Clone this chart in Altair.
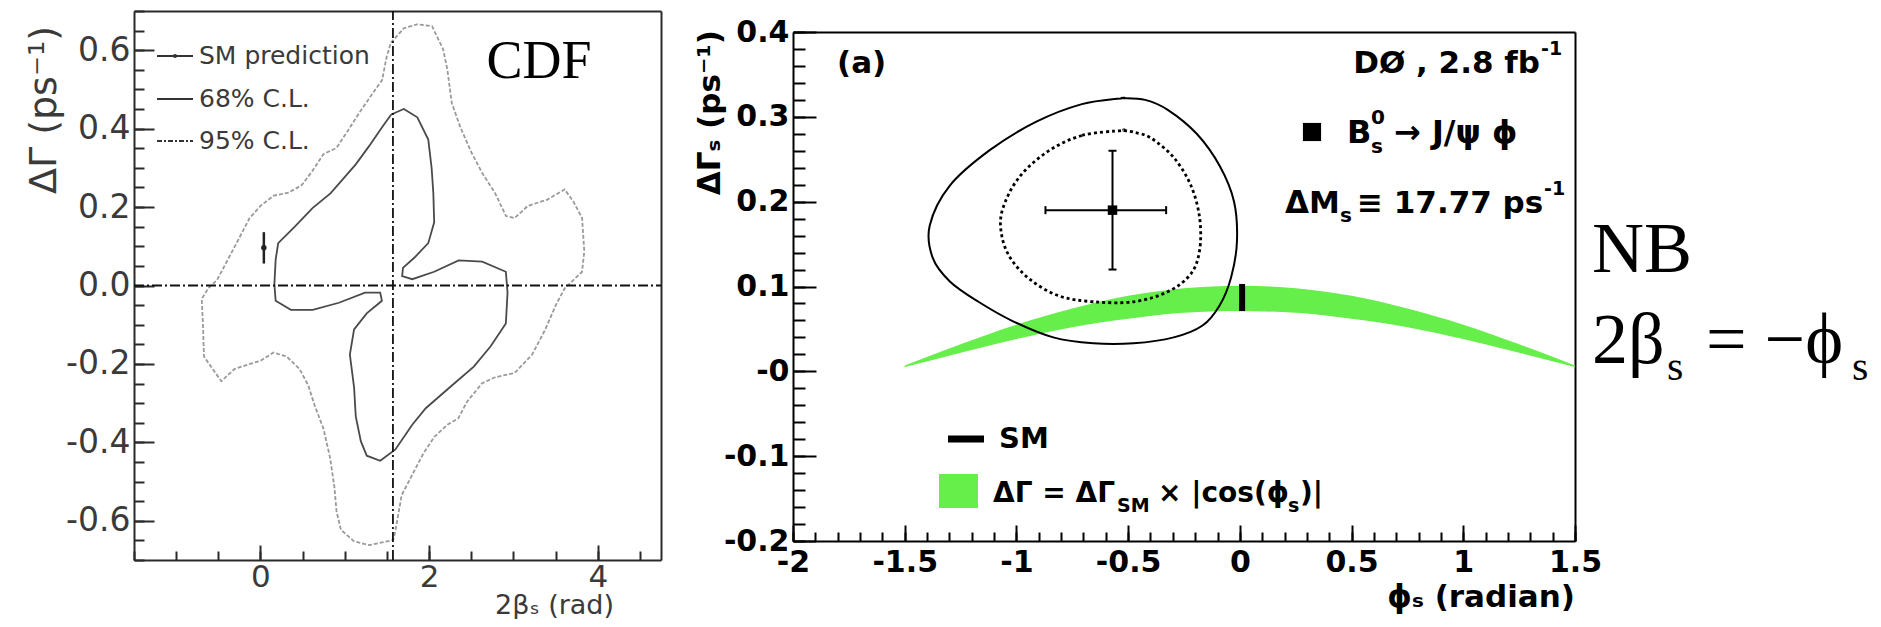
import altair as alt
import pandas as pd

# ---------------- CDF panel (left) data ----------------
cdf68_x = [1.55, 1.70, 1.86, 1.99, 2.03, 2.05, 2.06, 1.99, 1.83, 1.69, 1.68, 1.80, 2.06, 2.35, 2.63, 2.91, 2.93, 2.91, 2.73, 2.53,
           2.27, 1.96, 1.80, 1.60, 1.42, 1.26, 1.19, 1.13, 1.11, 1.06, 1.11, 1.26, 1.44, 1.42, 1.24, 0.93, 0.62, 0.36, 0.18, 0.165,
           0.18, 0.21, 0.41, 0.62, 0.83, 0.98, 1.13, 1.29, 1.44]
cdf68_y = [0.436, 0.450, 0.429, 0.372, 0.299, 0.235, 0.161, 0.108, 0.072, 0.045, 0.024, 0.016, 0.035, 0.064, 0.061, 0.035, -0.018,
           -0.097, -0.155, -0.207, -0.255, -0.313, -0.355, -0.418, -0.447, -0.434, -0.397, -0.334, -0.260, -0.176, -0.112, -0.071,
           -0.039, -0.018, -0.018, -0.044, -0.062, -0.062, -0.039, 0.003, 0.066, 0.108, 0.151, 0.198, 0.235, 0.272, 0.309, 0.356, 0.403]
cdf95_x = [1.546, 1.701, 1.856, 2.036, 2.165, 2.216, 2.268, 2.371, 2.500, 2.629, 2.784, 2.912, 3.015, 3.170, 3.402, 3.608, 3.711,
           3.814, 3.840, 3.814, 3.608, 3.505, 3.376, 3.222, 3.015, 2.784, 2.629, 2.448, 2.345, 2.216, 2.062, 1.933, 1.804, 1.727,
           1.675, 1.598, 1.572, 1.443, 1.289, 1.108, 0.954, 0.902, 0.876, 0.825, 0.747, 0.644, 0.567, 0.464, 0.309, 0.155, 0.000,
           -0.155, -0.309, -0.464, -0.567, -0.670, -0.680, -0.696, -0.619, -0.515, -0.412, -0.284, -0.129, 0.000, 0.155, 0.335,
           0.490, 0.619, 0.747, 0.902, 1.031, 1.186, 1.340, 1.443, 1.495]
cdf95_y = [0.619, 0.656, 0.666, 0.661, 0.603, 0.551, 0.466, 0.403, 0.340, 0.287, 0.235, 0.177, 0.172, 0.203, 0.219, 0.245, 0.214,
           0.172, 0.087, 0.035, -0.007, -0.049, -0.113, -0.176, -0.223, -0.234, -0.249, -0.297, -0.339, -0.355, -0.386, -0.428,
           -0.481, -0.513, -0.534, -0.628, -0.649, -0.655, -0.662, -0.652, -0.623, -0.576, -0.513, -0.439, -0.365, -0.307, -0.255,
           -0.213, -0.181, -0.171, -0.192, -0.202, -0.213, -0.244, -0.213, -0.181, -0.113, -0.034, -0.007, 0.014, 0.056, 0.108,
           0.172, 0.203, 0.229, 0.237, 0.256, 0.293, 0.335, 0.351, 0.393, 0.445, 0.493, 0.524, 0.582]
cdf_sm_x = [0.04]
cdf_sm_y = [0.096]
cdf_sm_lo = [0.056]
cdf_sm_hi = [0.136]
cdf_hline_x, cdf_hline_x2, cdf_hline_y = [-1.5], [4.75], [0.0]
cdf_vline_x, cdf_vline_y, cdf_vline_y2 = [1.571], [-0.7], [0.7]
cdf_xticks = [0, 2, 4]
cdf_yticks = [-0.6, -0.4, -0.2, 0.0, 0.2, 0.4, 0.6]
cdf_xminor = [round(-1.5 + 0.5 * k, 2) for k in range(13)]
cdf_yminor = [round(-0.7 + 0.05 * k, 2) for k in range(29)]

# ---------------- DØ panel (right) data ----------------
d0_out_x = [-0.527, -0.707, -0.913, -1.118, -1.298, -1.388, -1.375, -1.298, -1.170, -1.015, -0.835, -0.656, -0.476, -0.296,
            -0.167, -0.090, -0.039, -0.013, -0.026, -0.090, -0.193, -0.321, -0.424]
d0_out_y = [0.322, 0.315, 0.294, 0.261, 0.219, 0.172, 0.134, 0.106, 0.082, 0.059, 0.040, 0.033, 0.033, 0.040, 0.054, 0.078,
            0.111, 0.153, 0.200, 0.242, 0.280, 0.308, 0.320]
d0_in_x = [-0.527, -0.707, -0.861, -0.990, -1.062, -1.067, -1.028, -0.938, -0.810, -0.656, -0.476, -0.321, -0.219, -0.180,
           -0.180, -0.219, -0.296, -0.398, -0.476]
d0_in_y = [0.284, 0.278, 0.259, 0.228, 0.191, 0.162, 0.134, 0.108, 0.089, 0.082, 0.082, 0.094, 0.115, 0.143, 0.181, 0.219,
           0.252, 0.275, 0.282]
d0_best_phi, d0_best_dg = [-0.57], [0.19]
d0_phi_lo, d0_phi_hi = [-0.87], [-0.33]
d0_dg_lo, d0_dg_hi = [0.12], [0.26]
band_phi = [-1.5, -1.25, -1.0, -0.75, -0.5, -0.25, 0.0, 0.25, 0.5, 0.75, 1.0, 1.25, 1.5]
band_hi = [0.007, 0.032, 0.055, 0.074, 0.089, 0.098, 0.101, 0.098, 0.089, 0.074, 0.055, 0.032, 0.007]
band_lo = [0.005, 0.022, 0.038, 0.052, 0.062, 0.069, 0.071, 0.069, 0.062, 0.052, 0.038, 0.022, 0.005]
sm_phi, sm_lo, sm_hi = [0.01], [0.071], [0.103]
d0_xticks = [-2, -1.5, -1, -0.5, 0, 0.5, 1, 1.5]
d0_yticks = [-0.2, -0.1, 0, 0.1, 0.2, 0.3, 0.4]
d0_xminor = [round(-2 + 0.1 * k, 2) for k in range(36)]
d0_yminor = [round(-0.2 + 0.02 * k, 2) for k in range(31)]

# ---------------- geometry / style ----------------
SANS = "DejaVu Sans"
SERIF = "Liberation Serif"
GREY = "#3a3a3a"
GREEN = "#66ee4a"
W, H = 1865, 611
LX0, LX1, LY0, LY1 = 126, 653, 3, 552
RX0, RX1, RY0, RY1 = 785, 1567, 24, 533
L_XDOM, L_YDOM = [-1.5, 4.75], [-0.7, 0.7]
R_XDOM, R_YDOM = [-2.0, 1.5], [-0.2, 0.4]


def lxs():
    return alt.Scale(domain=L_XDOM, range=[LX0, LX1], nice=False, zero=False)


def lys():
    return alt.Scale(domain=L_YDOM, range=[LY1, LY0], nice=False, zero=False)


def rxs():
    return alt.Scale(domain=R_XDOM, range=[RX0, RX1], nice=False, zero=False)


def rys():
    return alt.Scale(domain=R_YDOM, range=[RY1, RY0], nice=False, zero=False)


def axis(**kw):
    base = dict(grid=False, title=None, labels=False, ticks=False, domain=False)
    base.update(kw)
    return alt.Axis(**base)


# left panel axes
L_LAB = (axis(orient="bottom", offset=LY1 - H, values=cdf_xticks, labels=True, labelExpr="toString(datum.value)",
              labelFont=SANS, labelFontSize=31, labelColor=GREY, labelPadding=2, tickSize=0, labelOverlap=False,
              labelFlush=False, domain=True, domainColor="#2a2a2a", domainWidth=2),
         axis(orient="left", offset=-LX0, values=cdf_yticks, labels=True,
              labelExpr="datum.value == 0 ? '0.0' : toString(datum.value)",
              labelFont=SANS, labelFontSize=33, labelColor=GREY, labelPadding=4, tickSize=0, labelOverlap=False,
              labelFlush=False, domain=True, domainColor="#2a2a2a", domainWidth=2))
L_MAJ = (axis(orient="top", offset=-LY1, values=cdf_xticks, ticks=True, tickSize=15, tickColor="#2a2a2a", tickWidth=2),
         axis(orient="right", offset=LX0 - W, values=cdf_yticks, ticks=True, tickSize=20, tickColor="#2a2a2a", tickWidth=2))
L_MIN = (axis(orient="top", offset=-LY1, values=cdf_xminor, ticks=True, tickSize=9, tickColor="#2a2a2a", tickWidth=2),
         axis(orient="right", offset=LX0 - W, values=cdf_yminor, ticks=True, tickSize=10, tickColor="#2a2a2a", tickWidth=2))
L_FRM = (axis(orient="top", offset=-LY0, domain=True, domainColor="#2a2a2a", domainWidth=2),
         axis(orient="right", offset=LX1 - W, domain=True, domainColor="#2a2a2a", domainWidth=2))

# right panel axes
R_LAB = (axis(orient="bottom", offset=RY1 - H, values=d0_xticks, labels=True, labelExpr="toString(datum.value)",
              labelFont=SANS, labelFontSize=30, labelFontWeight="bold", labelColor="black", labelPadding=6, tickSize=0,
              labelOverlap=False, labelFlush=False, domain=True, domainColor="black", domainWidth=2),
         axis(orient="left", offset=-RX0, values=d0_yticks, labels=True,
              labelExpr="datum.value == 0 ? '-0' : toString(datum.value)",
              labelFont=SANS, labelFontSize=30, labelFontWeight="bold", labelColor="black", labelPadding=4, tickSize=0,
              labelOverlap=False, labelFlush=False, domain=True, domainColor="black", domainWidth=2))
R_MAJ = (axis(orient="top", offset=-RY1, values=d0_xticks, ticks=True, tickSize=16, tickColor="black", tickWidth=2),
         axis(orient="right", offset=RX0 - W, values=d0_yticks, ticks=True, tickSize=23, tickColor="black", tickWidth=2))
R_MIN = (axis(orient="top", offset=-RY1, values=d0_xminor, ticks=True, tickSize=9, tickColor="black", tickWidth=2),
         axis(orient="right", offset=RX0 - W, values=d0_yminor, ticks=True, tickSize=12, tickColor="black", tickWidth=2))
R_FRM = (axis(orient="top", offset=-RY0, domain=True, domainColor="black", domainWidth=2),
         axis(orient="right", offset=RX1 - W, domain=True, domainColor="black", domainWidth=2))

ONE = pd.DataFrame({"k": [0]})


def closed(xs, ys):
    xs = list(xs) + [xs[0]]
    ys = list(ys) + [ys[0]]
    return pd.DataFrame({"x": xs, "y": ys, "i": list(range(len(xs)))})


def contour(xs, ys, sx, sy, axes, **mk):
    return alt.Chart(closed(xs, ys)).mark_line(**mk).encode(
        x=alt.X("x:Q", scale=sx(), axis=axes[0] if axes else None),
        y=alt.Y("y:Q", scale=sy(), axis=axes[1] if axes else None),
        order="i:Q")


def text(s, x, y, size, font=SANS, weight="normal", color="black", align="left", baseline="alphabetic", angle=0):
    return alt.Chart(ONE).mark_text(text=s, fontSize=size, font=font, fontWeight=weight, color=color, align=align,
                                    baseline=baseline, angle=angle).encode(x=alt.value(x), y=alt.value(y))


def prule(x, x2, y, **mk):
    return alt.Chart(ONE).mark_rule(**mk).encode(x=alt.value(x), x2=alt.value(x2), y=alt.value(y))


layers = []

# ---------------- left panel ----------------
layers.append(contour(cdf95_x, cdf95_y, lxs, lys, L_MAJ, color="#9a9a9a", strokeWidth=1.8, strokeDash=[4, 2]))
layers.append(contour(cdf68_x, cdf68_y, lxs, lys, L_LAB, color="#4a4a4a", strokeWidth=1.8))
layers.append(alt.Chart(pd.DataFrame({"x": cdf_hline_x, "x2": cdf_hline_x2, "y": cdf_hline_y})).mark_rule(
    color="#111111", strokeWidth=1.8, strokeDash=[10, 3, 2, 3]).encode(
    x=alt.X("x:Q", scale=lxs(), axis=L_MIN[0]), x2="x2:Q", y=alt.Y("y:Q", scale=lys(), axis=L_MIN[1])))
layers.append(alt.Chart(pd.DataFrame({"x": cdf_vline_x, "y": cdf_vline_y, "y2": cdf_vline_y2})).mark_rule(
    color="#111111", strokeWidth=1.8, strokeDash=[10, 3, 2, 3]).encode(
    x=alt.X("x:Q", scale=lxs(), axis=L_FRM[0]), y=alt.Y("y:Q", scale=lys(), axis=L_FRM[1]), y2="y2:Q"))
sm_df = pd.DataFrame({"x": cdf_sm_x, "y": cdf_sm_y, "lo": cdf_sm_lo, "hi": cdf_sm_hi})
layers.append(alt.Chart(sm_df).mark_rule(color="#222222", strokeWidth=2.5).encode(
    x=alt.X("x:Q", scale=lxs(), axis=None), y=alt.Y("lo:Q", scale=lys(), axis=None), y2="hi:Q"))
layers.append(alt.Chart(sm_df).mark_point(filled=True, color="#222222", size=30, opacity=1).encode(
    x=alt.X("x:Q", scale=lxs(), axis=None), y=alt.Y("y:Q", scale=lys(), axis=None)))
# legend (left)
layers.append(prule(149, 185, 48, color="#333333", strokeWidth=2))
layers.append(alt.Chart(ONE).mark_point(filled=True, color="#333333", size=18, opacity=1).encode(
    x=alt.value(167), y=alt.value(48)))
layers.append(prule(149, 185, 91, color="#333333", strokeWidth=2))
layers.append(prule(149, 185, 133, color="#333333", strokeWidth=2, strokeDash=[5, 2, 2, 2]))
layers.append(text("SM prediction", 191, 48, 25, color=GREY, baseline="middle"))
layers.append(text("68% C.L.", 191, 91, 25, color=GREY, baseline="middle"))
layers.append(text("95% C.L.", 191, 133, 25, color=GREY, baseline="middle"))
layers.append(text("CDF", 531, 70, 54, font=SERIF, align="center"))
layers.append(text("ΔΓ (ps⁻¹)", 48, 18, 38, color=GREY, align="right", angle=270))
layers.append(text("2βₛ (rad)", 606, 606, 27, color=GREY, align="right"))

# ---------------- right panel ----------------
band_df = pd.DataFrame({"x": band_phi, "hi": band_hi, "lo": band_lo})
layers.append(alt.Chart(band_df).mark_area(color=GREEN, opacity=1, interpolate="monotone").encode(
    x=alt.X("x:Q", scale=rxs(), axis=R_LAB[0]), y=alt.Y("hi:Q", scale=rys(), axis=R_LAB[1]), y2="lo:Q"))
layers.append(contour(d0_out_x, d0_out_y, rxs, rys, R_MAJ, color="black", strokeWidth=2, interpolate="cardinal-closed"))
layers.append(contour(d0_in_x, d0_in_y, rxs, rys, R_MIN, color="black", strokeWidth=2.8, strokeDash=[3, 3],
                      interpolate="cardinal-closed"))
best_df = pd.DataFrame({"x": d0_best_phi, "y": d0_best_dg, "xlo": d0_phi_lo, "xhi": d0_phi_hi,
                        "ylo": d0_dg_lo, "yhi": d0_dg_hi})
layers.append(alt.Chart(best_df).mark_rule(color="black", strokeWidth=2).encode(
    x=alt.X("xlo:Q", scale=rxs(), axis=R_FRM[0]), x2="xhi:Q", y=alt.Y("y:Q", scale=rys(), axis=R_FRM[1])))
layers.append(alt.Chart(best_df).mark_rule(color="black", strokeWidth=2).encode(
    x=alt.X("x:Q", scale=rxs(), axis=None), y=alt.Y("ylo:Q", scale=rys(), axis=None), y2="yhi:Q"))
caps_x = pd.DataFrame({"x": d0_phi_lo + d0_phi_hi, "y": d0_best_dg * 2})
caps_y = pd.DataFrame({"x": d0_best_phi * 2, "y": d0_dg_lo + d0_dg_hi})
layers.append(alt.Chart(caps_x).mark_tick(orient="vertical", size=8, thickness=2, color="black", opacity=1).encode(
    x=alt.X("x:Q", scale=rxs(), axis=None), y=alt.Y("y:Q", scale=rys(), axis=None)))
layers.append(alt.Chart(caps_y).mark_tick(orient="horizontal", size=8, thickness=2, color="black", opacity=1).encode(
    x=alt.X("x:Q", scale=rxs(), axis=None), y=alt.Y("y:Q", scale=rys(), axis=None)))
layers.append(alt.Chart(best_df).mark_square(color="black", size=90, opacity=1).encode(
    x=alt.X("x:Q", scale=rxs(), axis=None), y=alt.Y("y:Q", scale=rys(), axis=None)))
layers.append(alt.Chart(pd.DataFrame({"x": sm_phi, "lo": sm_lo, "hi": sm_hi})).mark_rule(color="black", strokeWidth=6).encode(
    x=alt.X("x:Q", scale=rxs(), axis=None), y=alt.Y("lo:Q", scale=rys(), axis=None), y2="hi:Q"))

# texts (right)
layers.append(text("(a)", 829, 65, 31, weight="bold"))
layers.append(text("DØ , 2.8 fb", 1532, 65, 31, weight="bold", align="right"))
layers.append(text("-1", 1533, 47, 19, weight="bold"))
layers.append(alt.Chart(ONE).mark_square(color="black", size=330, opacity=1).encode(x=alt.value(1304), y=alt.value(124)))
layers.append(text("B", 1339, 135, 32, weight="bold"))
layers.append(text("0", 1363, 116, 20, weight="bold"))
layers.append(text("s", 1363, 145, 20, weight="bold"))
layers.append(text("→ J/ψ  ϕ", 1386, 135, 32, weight="bold"))
layers.append(text("ΔM", 1277, 205, 31, weight="bold"))
layers.append(text("s", 1332, 214, 20, weight="bold"))
layers.append(text("≡ 17.77 ps", 1349, 205, 31, weight="bold"))
layers.append(text("-1", 1536, 187, 19, weight="bold"))
layers.append(text("ΔΓₛ (ps⁻¹)", 712, 22, 31, weight="bold", align="right", angle=270))
layers.append(text("ϕₛ (radian)", 1567, 599, 31, weight="bold", align="right"))
# legend (right)
layers.append(prule(940, 976, 431, color="black", strokeWidth=7))
layers.append(text("SM", 991, 431, 29, weight="bold", baseline="middle"))
layers.append(alt.Chart(ONE).mark_rect(color=GREEN, opacity=1).encode(
    x=alt.value(931), x2=alt.value(970), y=alt.value(466), y2=alt.value(500)))
layers.append(text("ΔΓ = ΔΓ", 985, 494, 28, weight="bold"))
layers.append(text("SM", 1109, 504, 19, weight="bold"))
layers.append(text("× |cos(ϕ", 1150, 494, 28, weight="bold"))
layers.append(text("s", 1280, 504, 19, weight="bold"))
layers.append(text(")|", 1292, 494, 28, weight="bold"))

# NB note
layers.append(text("NB", 1584, 264, 72, font=SERIF))
layers.append(text("2β", 1584, 355, 72, font=SERIF))
layers.append(text("s", 1659, 372, 42, font=SERIF))
layers.append(text("= −ϕ", 1698, 355, 72, font=SERIF))
layers.append(text("s", 1844, 372, 42, font=SERIF))

chart = alt.layer(*layers).resolve_scale(x="independent", y="independent").resolve_axis(
    x="independent", y="independent").properties(
    width=W, height=H, padding=0, background="white",
    autosize=alt.AutoSizeParams(type="none")).configure_view(stroke=None)

chart.save("out.html", embed_options={"renderer": "svg", "actions": False})
